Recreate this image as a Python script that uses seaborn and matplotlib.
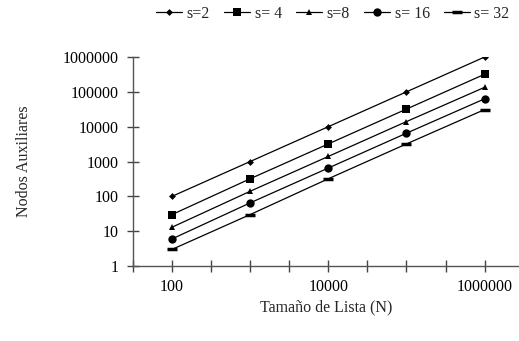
import numpy as np
import pandas as pd
import matplotlib
matplotlib.use("Agg")
import matplotlib.pyplot as plt
import seaborn as sns

N = [100, 1000, 10000, 100000, 1000000]
s2 = [100, 1000, 10000, 100000, 1000000]
s4 = [30, 320, 3200, 32000, 320000]
s8 = [13, 140, 1400, 14000, 135000]
s16 = [6, 65, 650, 6500, 63000]
s32 = [3, 30, 320, 3200, 31000]
series_names = ["s=2", "s= 4", "s=8", "s= 16", "s= 32"]
markers = ["D", "s", "^", "o", "_"]
msizes = [3.5, 6, 4.5, 6, 7]

df = pd.DataFrame({"N": N * 5,
                   "val": s2 + s4 + s8 + s16 + s32,
                   "serie": np.repeat(series_names, len(N))})

sns.set_style("white")
plt.rcParams['font.family'] = ['Liberation Serif', 'DejaVu Serif']

fig = plt.figure(figsize=(5.19, 3.41), dpi=100)
ax = fig.add_axes([133/519, 1-266/341, 1-133/519, (266-57)/341])

for name, m, ms in zip(series_names, markers, msizes):
    d = df[df.serie == name]
    sns.lineplot(data=d, x="N", y="val", ax=ax, color="black", lw=0.9,
                 marker=m, markersize=ms, markeredgewidth=2.5 if m == "_" else 0,
                 mec="black", mfc="black", label=name)

ax.set_xscale("log")
ax.set_yscale("log")
ax.set_xlim(10**1.5, 10**6.44)
ax.set_ylim(1, 1e6)

xt = [10**(1.5 + 0.5*k) for k in range(10)]
ax.set_xticks(xt)
ax.set_xticklabels(["100" if abs(v-100) < 1 else "10000" if abs(v-1e4) < 1 else "1000000" if abs(v-1e6) < 1 else "" for v in xt])
ax.xaxis.set_minor_locator(matplotlib.ticker.NullLocator())
yt = [1, 10, 100, 1000, 10000, 100000, 1000000]
ax.set_yticks(yt)
ax.set_yticklabels([str(v) for v in yt])
ax.yaxis.set_minor_locator(matplotlib.ticker.NullLocator())

for sp in ["top", "right"]:
    ax.spines[sp].set_visible(False)
for sp in ["left", "bottom"]:
    ax.spines[sp].set_color("#555555")
    ax.spines[sp].set_linewidth(1.0)
ax.tick_params(axis="both", direction="inout", length=9, width=1, color="#444444",
               labelsize=11.5, labelcolor="black", bottom=True, left=True)
ax.tick_params(axis="y", pad=6)
ax.tick_params(axis="x", pad=5)

ax.set_xlabel("Tamaño de Lista (N)", fontsize=11.5, labelpad=3)
ax.set_ylabel("Nodos Auxiliares", fontsize=11.5, labelpad=22)

leg = ax.legend(loc="lower left", bbox_to_anchor=(150/519, 1-28/341), bbox_transform=fig.transFigure,
                ncol=5, frameon=False, fontsize=11.5, handlelength=1.6, handletextpad=0.3,
                columnspacing=0.9, borderaxespad=0)

fig.savefig("out.png", dpi=100)
